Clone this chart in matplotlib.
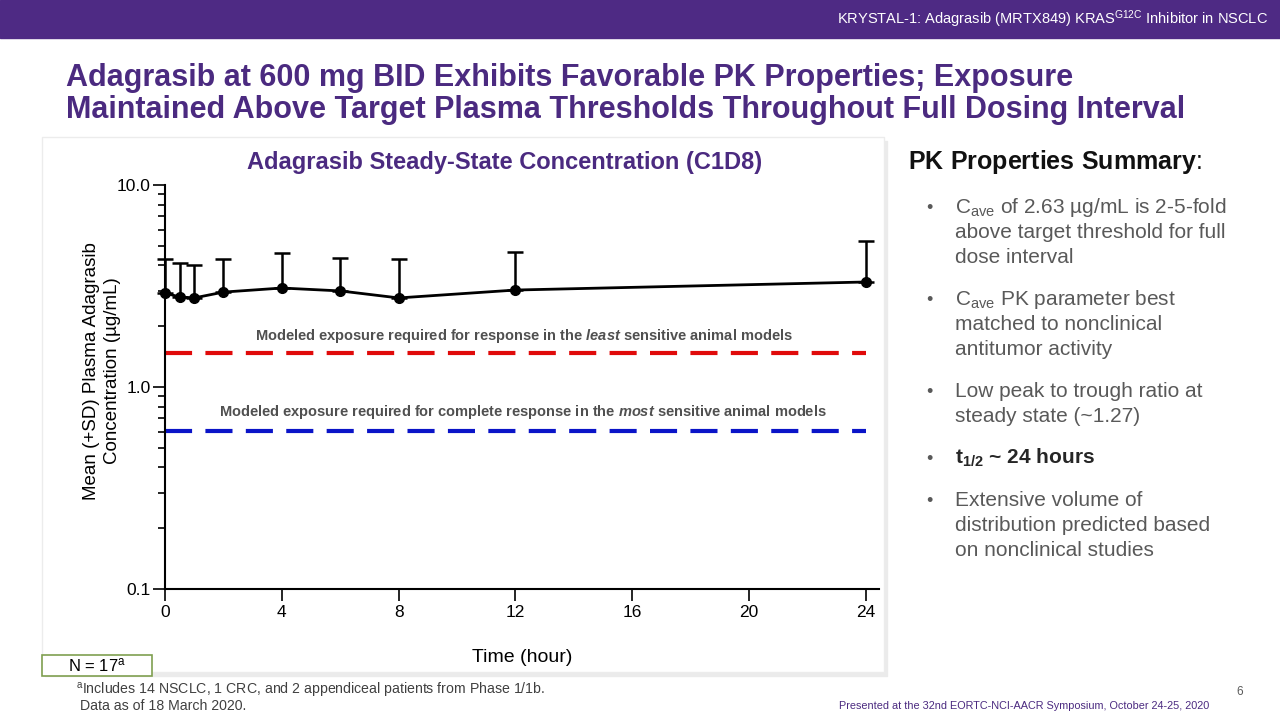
import matplotlib
matplotlib.use("Agg")
import matplotlib.pyplot as plt
import numpy as np
from matplotlib.patches import Rectangle
from matplotlib.ticker import FixedLocator, FixedFormatter, LogLocator, NullFormatter

plt.rcParams['font.family'] = ['Liberation Sans', 'DejaVu Sans']
plt.rcParams['mathtext.fontset'] = 'custom'
plt.rcParams['mathtext.rm'] = 'Liberation Sans'
plt.rcParams['mathtext.it'] = 'Liberation Sans:italic:bold'
plt.rcParams['mathtext.bf'] = 'Liberation Sans:bold'

# data (C1D8, mean + SD)
time_h = [0, 0.5, 1, 2, 4, 6, 8, 12, 24]
mean_conc = [2.92, 2.79, 2.76, 2.95, 3.09, 2.99, 2.76, 3.02, 3.31]
sd_conc = [1.38, 1.32, 1.26, 1.35, 1.52, 1.36, 1.54, 1.64, 1.97]
least_sensitive = 1.47
most_sensitive = 0.605
x_ticks = [0, 4, 8, 12, 16, 20, 24]
y_ticks = [0.1, 1.0, 10.0]

purple = '#4B2A80'
W, H = 1280, 720

fig = plt.figure(figsize=(12.8, 7.2), dpi=100)
fig.patch.set_facecolor('white')

def fx(px):
    return px / W

def fy(py):
    return 1 - py / H

# header bar
fig.patches.append(Rectangle((0, fy(38)), 1, 38 / H, transform=fig.transFigure,
                             color='#4E2A84', zorder=-5))
fig.text(fx(1268), fy(19), r"KRYSTAL-1: Adagrasib (MRTX849) KRAS$^{\mathregular{G12C}}$ Inhibitor in NSCLC",
         color='white', fontsize=10.5, ha='right', va='center')

# slide title
fig.text(fx(66), fy(86), "Adagrasib at 600 mg BID Exhibits Favorable PK Properties; Exposure",
         color=purple, fontsize=22, fontweight='bold', va='baseline')
fig.text(fx(66), fy(118), "Maintained Above Target Plasma Thresholds Throughout Full Dosing Interval",
         color=purple, fontsize=22, fontweight='bold', va='baseline')

# chart panel with a soft shadow
fig.patches.append(Rectangle((fx(45), fy(676)), (884 - 42) / W, (672 - 137) / H,
                             transform=fig.transFigure, color='#ebebeb', zorder=-4))
fig.patches.append(Rectangle((fx(42), fy(672)), (884 - 42) / W, (672 - 137) / H,
                             transform=fig.transFigure, fc='white', ec='#ececec', zorder=-3))

fig.text(fx(505), fy(163), "Adagrasib Steady-State Concentration (C1D8)",
         color=purple, fontsize=17, fontweight='bold', ha='center', va='center')

ax = fig.add_axes([fx(165), fy(589), (879 - 165) / W, (589 - 185) / H])
ax.patch.set_alpha(0)
ax.set_yscale('log')
ax.set_ylim(0.1, 10)
ax.set_xlim(0, 24.45)

for s in ['top', 'right']:
    ax.spines[s].set_visible(False)
for s in ['left', 'bottom']:
    ax.spines[s].set_linewidth(1.5)

ax.xaxis.set_major_locator(FixedLocator(x_ticks))
ax.yaxis.set_major_locator(FixedLocator(y_ticks))
ax.yaxis.set_major_formatter(FixedFormatter([f"{v:.1f}" for v in y_ticks]))
ax.yaxis.set_minor_locator(LogLocator(base=10, subs=np.arange(2, 10)))
ax.yaxis.set_minor_formatter(NullFormatter())
ax.tick_params(axis='both', which='major', direction='out', length=8.5, width=1.2,
               labelsize=12.5, pad=2)
ax.tick_params(axis='y', which='minor', direction='out', length=5, width=1.2)
ax.tick_params(axis='x', which='major', pad=3, labelsize=12.5)

# threshold lines
ax.plot([0, 24], [least_sensitive] * 2, color='#E00A0A', lw=3, dashes=(6.5, 3.2),
        dash_capstyle='butt')
ax.plot([0, 24], [most_sensitive] * 2, color='#0A14C8', lw=3, dashes=(6.5, 3.2),
        dash_capstyle='butt')
ax.annotate(r"Modeled exposure required for response in the $\mathit{least}$ sensitive animal models",
            xy=(12.3, least_sensitive), xytext=(0, 6), textcoords='offset points',
            ha='center', va='bottom', fontsize=10.5, fontweight='bold', color='#505050')
ax.annotate(r"Modeled exposure required for complete response in the $\mathit{most}$ sensitive animal models",
            xy=(12.25, most_sensitive), xytext=(0, 7), textcoords='offset points',
            ha='center', va='bottom', fontsize=10.5, fontweight='bold', color='#505050')

# mean + SD profile
eb = ax.errorbar(time_h, mean_conc, yerr=[np.zeros(len(sd_conc)), sd_conc],
                 fmt='-o', color='black', lw=2, ms=7, capsize=6, capthick=1.8,
                 elinewidth=1.8, zorder=5)
for art in eb.get_children():
    art.set_clip_on(False)

ax.set_xlabel("Time (hour)", fontsize=14)
ax.xaxis.set_label_coords(0.5, -0.148)
ax.set_ylabel("Mean (+SD) Plasma Adagrasib\nConcentration (\u00b5g/mL)", fontsize=13.5,
              linespacing=1.3)
ax.yaxis.label.set_va('center')
ax.yaxis.set_label_coords(-0.088, 0.54)

# N box
fig.patches.append(Rectangle((fx(42), fy(676)), 110 / W, 21 / H, transform=fig.transFigure,
                             fc='white', ec='#7F9F50', lw=1.2, zorder=2))
fig.text(fx(97), fy(665), r"N = 17$^{\mathregular{a}}$", fontsize=12, ha='center', va='center')

# right-hand summary
fig.text(fx(908), fy(169), r"$\mathbf{PK\ Properties\ Summary}$:", fontsize=18,
         color='#111111', va='baseline')

bullets = [
    ["$\\mathregular{C_{ave}}$ of 2.63 \u00b5g/mL is 2-5-fold", "above target threshold for full", "dose interval"],
    ["$\\mathregular{C_{ave}}$ PK parameter best", "matched to nonclinical", "antitumor activity"],
    ["Low peak to trough ratio at", "steady state (~1.27)"],
    ["$\\mathregular{t_{1/2}}$ ~ 24 hours"],
    ["Extensive volume of", "distribution predicted based", "on nonclinical studies"],
]
bold_para = 3
y = 213
for i, lines in enumerate(bullets):
    fig.text(fx(926), fy(y), "\u2022", fontsize=13, color='#595959', va='baseline')
    for ln in lines:
        fig.text(fx(955), fy(y), ln, fontsize=15, color='#262626' if i == bold_para else '#595959',
                 fontweight='bold' if i == bold_para else 'normal', va='baseline')
        y += 25
    y += 17

# footnote and footer
fig.text(fx(76), fy(690), r"$^{\mathregular{a}}$Includes 14 NSCLC, 1 CRC, and 2 appendiceal patients from Phase 1/1b.",
         fontsize=10.2, color='#404040', va='center')
fig.text(fx(80), fy(706), "Data as of 18 March 2020.", fontsize=10.2, color='#404040', va='center')
fig.text(fx(1024), fy(706), "Presented at the 32nd EORTC-NCI-AACR Symposium, October 24-25, 2020",
         fontsize=7.8, color=purple, ha='center', va='center')
fig.text(fx(1240), fy(692), "6", fontsize=8.5, color='#595959', ha='center', va='center')

fig.savefig('out.png', dpi=100)
